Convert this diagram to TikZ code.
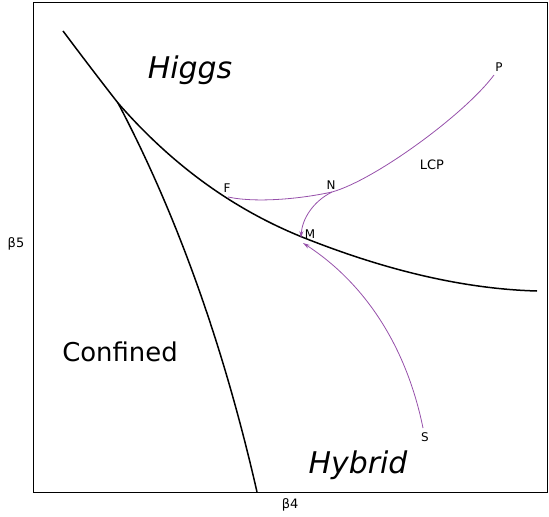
\documentclass[tikz,border=0pt]{standalone}
\usepackage{fontspec}
\setmainfont{DejaVu Sans}
\usetikzlibrary{arrows.meta}
\definecolor{lcp}{RGB}{150,80,170}
\tikzset{
  boundary/.style={line width=1.5bp, black},
  path curve/.style={draw=lcp, line width=0.8bp},
  arr/.style={path curve, -{Stealth[length=7bp,width=4bp]}},
  big/.style={font=\fontsize{30}{34}\selectfont\itshape},
  mid/.style={font=\fontsize{26}{30}\selectfont},
  axis/.style={font=\fontsize{13}{15}\selectfont},
  pt/.style={font=\fontsize{12}{14}\selectfont, inner sep=0pt},
}
\begin{document}
\begin{tikzpicture}[x=1bp,y=-1bp]
\useasboundingbox (0,0) rectangle (549,517);
\draw[line width=0.8bp] (33,2) rectangle (547,492);
% points
\coordinate (A0) at (63,31);
\coordinate (T) at (118,103);
\coordinate (A1) at (302,237);
\coordinate (A2) at (537,291);
\coordinate (B1) at (257,492);
\coordinate (P) at (494,75);
\coordinate (N) at (332,192);
\coordinate (F) at (228,197);
\coordinate (M) at (301,238);
\coordinate (M2) at (303,243);
\coordinate (S) at (423,428);
% phase boundaries
\draw[boundary] (A0) .. controls (81,55) and (100,80) .. (T) .. controls (172,165) and (233,209) .. (A1) .. controls (387,271) and (465,289) .. (A2);
\draw[boundary] (T) .. controls (176,213) and (223,343) .. (B1);
% LCP
\draw[path curve] (P) .. controls (465,114) and (375,180) .. (N) .. controls (300,199) and (256,203) .. (F);
\draw[arr] (N) .. controls (312,202) and (302,220) .. (M);
\draw[arr] (S) .. controls (405,340) and (360,280) .. (M2);
% labels
\node[big] (higgs) at (190,70) {Higgs};
\node[mid] (confined) at (120,352) {Confined};
\node[big] (hybrid) at (358,465) {Hybrid};
\node[pt, font=\fontsize{13}{15}\selectfont] (lcplab) at (432,165) {LCP};
\node[pt] (Plab) at (499,67) {P};
\node[pt] (Nlab) at (331,185) {N};
\node[pt] (Flab) at (227,188) {F};
\node[pt] (Mlab) at (310,234) {M};
\node[pt] (Slab) at (425,437) {S};
\node[axis] (b5) at (16,244) {β5};
\node[axis] (b4) at (290,505) {β4};
\end{tikzpicture}
\end{document}
